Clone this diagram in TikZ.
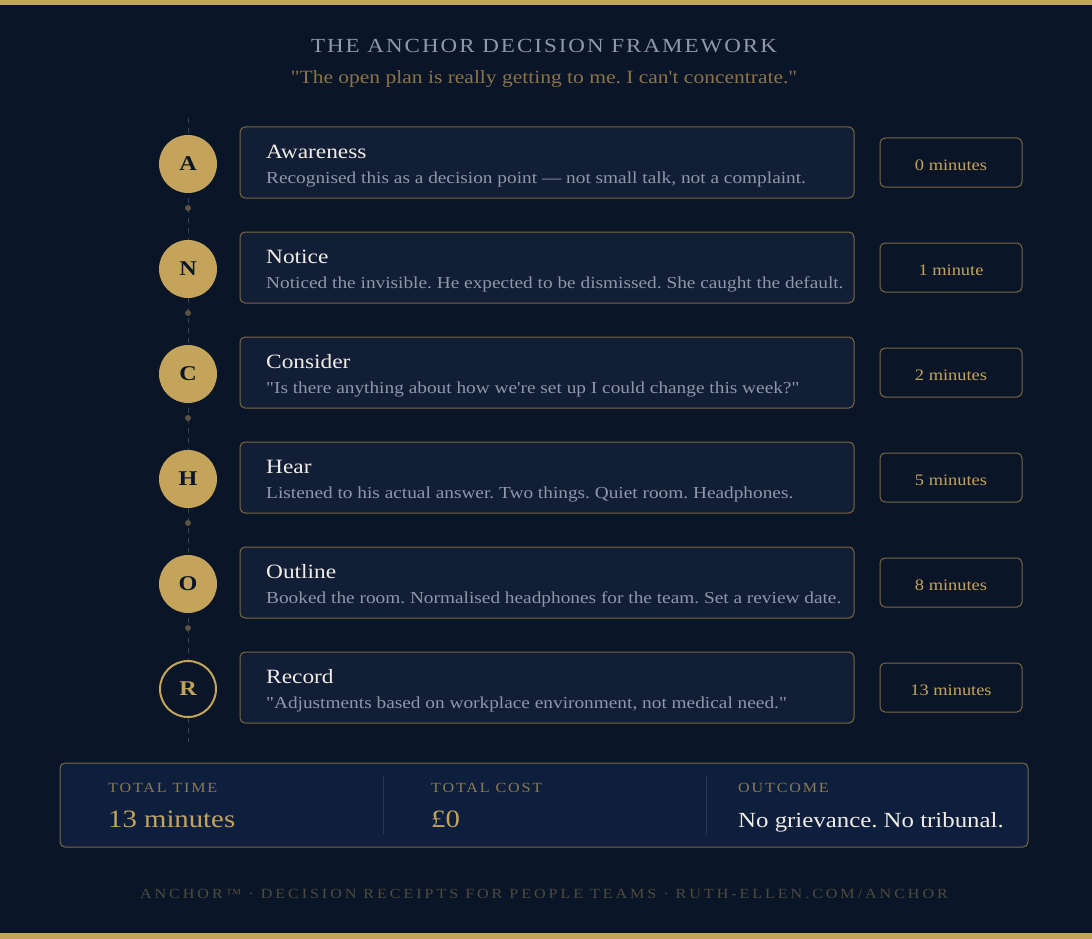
\documentclass[tikz,border=0pt]{standalone}
\usepackage{fontspec}
\setmainfont{Liberation Serif}[Ligatures=TeXOff,FakeStretch=1.15]
\newfontfamily\spacedA{Liberation Serif}[Ligatures=TeXOff,FakeStretch=1.15,LetterSpace=10]
\newfontfamily\spacedB{Liberation Serif}[Ligatures=TeXOff,FakeStretch=1.15,LetterSpace=13]
\newfontfamily\spacedC{Liberation Serif}[Ligatures=TeXOff,FakeStretch=1.15,LetterSpace=21]
\definecolor{bg}{HTML}{0B1528}
\definecolor{cardfill}{HTML}{121D36}
\definecolor{cardline}{HTML}{7A6840}
\definecolor{gold}{HTML}{C4A45A}
\definecolor{titlegray}{HTML}{8C9AAB}
\definecolor{subgold}{HTML}{8A7446}
\definecolor{desc}{HTML}{8E98AA}
\definecolor{ctitle}{HTML}{F0EDE6}
\definecolor{sumfill}{HTML}{0E1F3E}
\definecolor{sumlabel}{HTML}{8A7A52}
\definecolor{foot}{HTML}{4E4A3C}
\definecolor{dotc}{HTML}{5A5440}
\definecolor{dashc}{HTML}{3A4252}
\definecolor{divc}{HTML}{2A3550}
\begin{document}
\frenchspacing
\begin{tikzpicture}[x=1pt,y=-1pt,
  letter/.style={circle,minimum size=58pt,inner sep=0pt,fill=gold,text=bg,font=\fontsize{21}{21}\selectfont\bfseries},
  letterlast/.style={circle,minimum size=56pt,inner sep=0pt,draw=gold,line width=2pt,fill=bg,text=gold,font=\fontsize{21}{21}\selectfont\bfseries},
  card/.style={draw=cardline,fill=cardfill,rounded corners=5pt,line width=1pt,minimum width=614pt,minimum height=71pt,inner sep=0pt},
  tbox/.style={draw=cardline,rounded corners=5pt,line width=1pt,minimum width=142pt,minimum height=49pt,inner sep=0pt},
  ttext/.style={anchor=base,text=gold,font=\fontsize{16}{16}\selectfont,inner sep=0pt},
  ctext/.style={anchor=base west,text=ctitle,font=\fontsize{20.3}{20.3}\selectfont,inner sep=0pt},
  dtext/.style={anchor=base west,text=desc,font=\fontsize{16.8}{16.8}\selectfont,inner sep=0pt},
  sdot/.style={circle,fill=dotc,minimum size=6pt,inner sep=0pt},
  slabel/.style={anchor=base west,text=sumlabel,font=\spacedB\fontsize{14}{14}\selectfont,inner sep=0pt},
]
\useasboundingbox (0,0) rectangle (1092,939);
\fill[bg] (0,0) rectangle (1092,939);
\fill[gold] (0,0) rectangle (1092,5);
\fill[gold] (0,933) rectangle (1092,939);

\node[text=titlegray,font=\spacedA\fontsize{20}{20}\selectfont,anchor=base] (title) at (544,53) {THE ANCHOR DECISION FRAMEWORK};
\node[text=subgold,font=\fontsize{18.7}{18.7}\selectfont,anchor=base] (sub) at (544,84) {"The open plan is really getting to me. I can't concentrate."};

\coordinate (ltop) at (188,118);
\coordinate (lbot) at (188,742);
\draw[dashc,dash pattern=on 5pt off 5pt,line width=1pt] (ltop) -- (lbot);

\foreach \i/\y/\L/\T/\D/\M in {
 1/163/A/Awareness/{Recognised this as a decision point — not small talk, not a complaint.}/0 minutes,
 2/268/N/Notice/{Noticed the invisible. He expected to be dismissed. She caught the default.}/1 minute,
 3/373/C/Consider/{"Is there anything about how we're set up I could change this week?"}/2 minutes,
 4/478/H/Hear/{Listened to his actual answer. Two things. Quiet room. Headphones.}/5 minutes,
 5/583/O/Outline/{Booked the room. Normalised headphones for the team. Set a review date.}/8 minutes}{
  \node[letter] (c\i) at (188,\y+1) {\L};
  \node[card] (k\i) at (547,\y-0.5) {};
  \node[ctext] (kt\i) at (266,\y-5) {\T};
  \node[dtext] (kd\i) at (266,\y+20) {\D};
  \node[tbox] (t\i) at (951,\y-0.5) {};
  \node[ttext] (tt\i) at (951,\y+7) {\M};
  \node[sdot] (d\i) at (188,\y+45) {};
}
\node[letterlast] (c6) at (188,689) {R};
\node[card] (k6) at (547,687.5) {};
\node[ctext] (kt6) at (266,683) {Record};
\node[dtext] (kd6) at (266,708) {"Adjustments based on workplace environment, not medical need."};
\node[tbox] (t6) at (951,687.5) {};
\node[ttext] (tt6) at (951,695) {13 minutes};

% summary
\node[draw=cardline,fill=sumfill,rounded corners=5pt,line width=1pt,minimum width=968pt,minimum height=84pt,inner sep=0pt] (sum) at (544,805) {};
\draw[divc,line width=1pt] (383,776) -- (383,834);
\draw[divc,line width=1pt] (706,776) -- (706,834);
\node[slabel] (l1) at (108,792) {TOTAL TIME};
\node[slabel] (l2) at (431,792) {TOTAL COST};
\node[slabel] (l3) at (738,792) {OUTCOME};
\node[anchor=base west,text=gold,font=\fontsize{25}{25}\selectfont,inner sep=0pt] (v1) at (108,827) {13 minutes};
\node[anchor=base west,text=gold,font=\fontsize{25}{25}\selectfont,inner sep=0pt] (v2) at (431,827) {£0};
\node[anchor=base west,text=ctitle,font=\fontsize{21.6}{21.6}\selectfont,inner sep=0pt] (v3) at (738,827) {No grievance. No tribunal.};

\node[text=foot,font=\spacedC\fontsize{14}{14}\selectfont,anchor=base] (footer) at (544,898) {ANCHOR™ · DECISION RECEIPTS FOR PEOPLE TEAMS · RUTH-ELLEN.COM/ANCHOR};
\end{tikzpicture}
\end{document}
